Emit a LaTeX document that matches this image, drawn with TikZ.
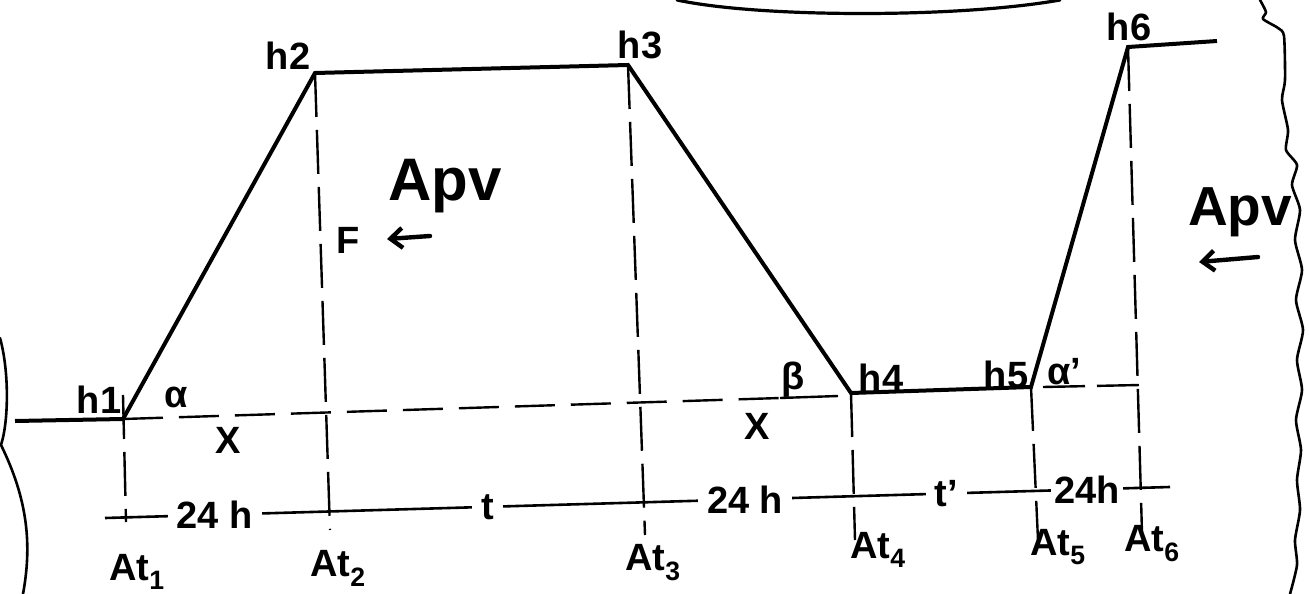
\documentclass[tikz,border=0pt]{standalone}
\usepackage{fontspec}
\setmainfont{Liberation Sans}
\usetikzlibrary{arrows.meta}

\begin{document}
\begin{tikzpicture}[x=1pt, y=-1pt,
  profile/.style={line width=4pt, line join=miter},
  guide/.style={line width=2.4pt, dash pattern=on 44pt off 13pt},
  base/.style={line width=2.4pt, dash pattern=on 40pt off 16pt},
  edge/.style={line width=2.6pt, line join=round, line cap=round},
  lbl/.style={font=\fontsize{38}{44}\selectfont\bfseries, inner sep=1pt},
  big/.style={font=\fontsize{60}{66}\selectfont\bfseries, inner sep=0pt},
  span/.style={lbl, fill=white, inner xsep=9pt, inner ysep=0pt},
  flow/.style={line width=4.4pt, line cap=round, -{Straight Barb[length=12pt, width=20pt, line width=4.4pt]}}]
  \useasboundingbox (0,0) rectangle (1309,594);

  % torn edges of the page and the cut curve at the top
  \draw[edge] (0,338) .. controls (9,370) and (9,420) .. (1,445)
    .. controls (28,500) and (32,545) .. (23,594);
  \draw[edge] plot[smooth, tension=0.4] coordinates {(1260,0) (1266,12) (1263,19)
    (1278,28) (1284,36) (1285,80) (1282,100) (1288,130) (1286,150) (1297,165)
    (1292,185) (1300,210) (1295,240) (1302,270) (1296,300) (1303,330) (1297,360)
    (1302,390) (1296,420) (1301,450) (1297,480) (1300,510) (1295,540) (1297,565)
    (1290,594)};
  \draw[edge, line width=3.2pt] (677,0) .. controls (760,18) and (960,18) .. (1060,0);

  % levels
  \coordinate (h0) at (15,421);
  \coordinate (h1) at (123,419);
  \coordinate (h2) at (315,73);
  \coordinate (h3) at (628,65);
  \coordinate (h4) at (851,393);
  \coordinate (h5) at (1031,387);
  \coordinate (h6) at (1128,47);
  \coordinate (h7) at (1217,41);
  \draw[profile] (h0) -- (h1) -- (h2) -- (h3) -- (h4) -- (h5) -- (h6) -- (h7);

  % time marks
  \coordinate (top1) at (123,395);
  \coordinate (a1) at (126,522);
  \coordinate (a2) at (330,530);
  \coordinate (a3) at (645,535);
  \coordinate (a4) at (855,540);
  \coordinate (a5) at (1038,540);
  \coordinate (a6) at (1142,533);
  \draw[guide] (top1) -- (a1);
  \draw[guide] (h2) -- (a2);
  \draw[guide] (h3) -- (a3);
  \draw[guide] (h4) -- (a4);
  \draw[guide] (h5) -- (a5);
  \draw[guide] (h6) -- (a6);

  % reference lines
  \coordinate (x1) at (780,398);
  \coordinate (x2) at (838,396);
  \coordinate (x3) at (1140,385);
  \draw[base] (h1) -- (x1);
  \draw[line width=2.4pt] (x1) -- (x2);
  \draw[line width=2.4pt, dash pattern=on 42pt off 12pt] ([xshift=12pt]h5) -- (x3);

  % time axis
  \coordinate (tl) at (105,518);
  \coordinate (tr) at (1170,487);
  \draw[line width=2.6pt] (tl) -- node[span, pos=0.103] (d1) {24 h}
    node[span, pos=0.359] (d2) {t}
    node[span, pos=0.601] (d3) {24 h}
    node[span, pos=0.790] (d4) {t'}
    node[span, pos=0.922, inner xsep=3pt] (d5) {24h} (tr);

  % labels
  \node[lbl] (l1) at (99,400) {h1};
  \node[lbl] (l2) at (288,56) {h2};
  \node[lbl] (l3) at (640,45) {h3};
  \node[lbl] (l4) at (881,378) {h4};
  \node[lbl] (l5) at (1006,375) {h5};
  \node[lbl] (l6) at (1129,27) {h6};
  \node[lbl] (ang1) at (176,397) {α};
  \node[lbl] (ang2) at (793,380) {β};
  \node[lbl] (ang3) at (1064,372) {α'};
  \node[lbl] (dx1) at (228,440) {X};
  \node[lbl] (dx2) at (757,426) {X};
  \node[lbl] (t1) at (137,572) {At\textsubscript{1}};
  \node[lbl] (t2) at (338,568) {At\textsubscript{2}};
  \node[lbl] (t3) at (653,563) {At\textsubscript{3}};
  \node[lbl] (t4) at (878,550) {At\textsubscript{4}};
  \node[lbl] (t5) at (1058,547) {At\textsubscript{5}};
  \node[lbl] (t6) at (1152,544) {At\textsubscript{6}};

  % flow direction
  \node[big] (apv1) at (445,186) {Apv};
  \node[lbl] (f) at (348,240) {F};
  \coordinate (f1) at (430,236);
  \coordinate (f2) at (387,239);
  \draw[flow] (f1) -- (f2);
  \node[big, font=\fontsize{55}{60}\selectfont\bfseries] (apv2) at (1240,212) {Apv};
  \coordinate (g1) at (1258,257);
  \coordinate (g2) at (1199,262);
  \draw[flow] (g1) -- (g2);
\end{tikzpicture}
\end{document}
